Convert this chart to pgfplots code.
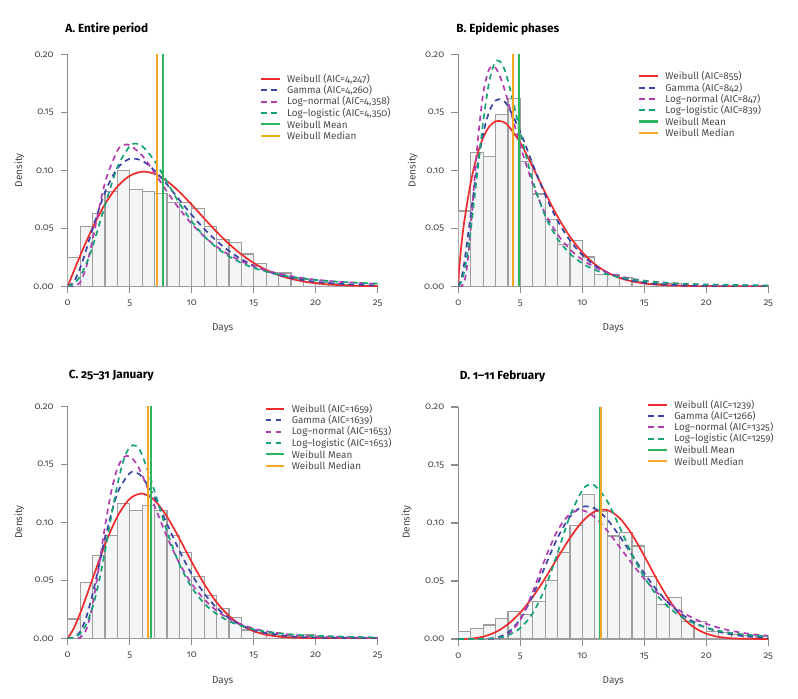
\documentclass[border=0pt]{standalone}
\usepackage{fontspec}
\setmainfont{Fira Sans}[Numbers=OldStyle]
\usepackage{pgfplots}
\pgfplotsset{compat=1.18}

\definecolor{wbred}{HTML}{EE2C2C}
\definecolor{gmblue}{HTML}{3C44A8}
\definecolor{lnpurple}{HTML}{B23DB0}
\definecolor{llgreen}{HTML}{16A276}
\definecolor{mngreen}{HTML}{2CB45E}
\definecolor{mdorange}{HTML}{F7A823}
\definecolor{barfill}{HTML}{F3F5F7}
\definecolor{baredge}{HTML}{9E9E9E}
\definecolor{axgray}{HTML}{8C8C8C}
\definecolor{labgray}{HTML}{4A4A4A}

\newcommand\tickfont{\fontsize{4.9pt}{6pt}\selectfont}
\newcommand\legfont{\fontsize{4.95pt}{6pt}\selectfont}
\newcommand\labfont{\fontsize{5pt}{6pt}\selectfont}
\newcommand\titlefont{\fontsize{5.9pt}{7pt}\selectfont\bfseries}

\pgfplotsset{
  panel/.style={
    width=155pt, height=116pt, scale only axis,
    anchor=south west,
    xmin=0, xmax=25, ymin=0, ymax=0.2,
    axis lines=left,
    axis line style={-, draw=axgray, line width=0.6pt},
    tick align=outside, major tick length=3.5pt,
    tick style={draw=axgray, line width=0.6pt},
    xtick={0,5,10,15,20,25},
    ytick={0,0.05,0.1,0.15,0.2},
    scaled y ticks=false,
    ticklabel style={font=\tickfont, text=labgray},
    yticklabel style={/pgf/number format/.cd, fixed, fixed zerofill, precision=2},
    /pgf/number format/assume math mode=true,
    clip mode=individual,
  },
  hist/.style={ybar interval, fill=barfill, draw=baredge, line width=0.6pt},
  wb/.style={wbred, line width=0.85pt, smooth},
  gm/.style={gmblue, line width=0.85pt, smooth, dash pattern=on 2.8pt off 2.2pt},
  ln/.style={lnpurple, line width=0.85pt, smooth, dash pattern=on 2.8pt off 2.2pt},
  ll/.style={llgreen, line width=0.85pt, smooth, dash pattern=on 2.8pt off 2.2pt},
  mn/.style={mngreen, line width=1pt},
  md/.style={mdorange, line width=1pt},
}

% legend rows: #1,#2 = start of first row (pt, from axis origin), #3 = row
\newcommand{\legrow}[5]{%
  \draw[#4] ({#1pt},{#2pt-#3*5.66pt}) -- ({#1pt+9.25pt},{#2pt-#3*5.66pt});
  \node[anchor=west, inner sep=0pt, font=\legfont, text=labgray] at ({#1pt+12.85pt},{#2pt-#3*5.66pt}) {#5};}
\newcommand{\fitlegend}[6]{%
  \legrow{#1}{#2}{0}{wbred, line width=0.9pt}{Weibull (AIC=#3)}
  \legrow{#1}{#2}{1}{gmblue, line width=0.9pt, dash pattern=on 2.8pt off 2.2pt}{Gamma (AIC=#4)}
  \legrow{#1}{#2}{2}{lnpurple, line width=0.9pt, dash pattern=on 2.8pt off 2.2pt}{Log--normal (AIC=#5)}
  \legrow{#1}{#2}{3}{llgreen, line width=0.9pt, dash pattern=on 2.8pt off 2.2pt}{Log--logistic (AIC=#6)}
  \legrow{#1}{#2}{4}{mngreen, line width=1.1pt}{Weibull Mean}
  \legrow{#1}{#2}{5}{mdorange, line width=1.1pt}{Weibull Median}}

\begin{document}
\begin{tikzpicture}
\path[use as bounding box] (0,0) rectangle (399pt,349pt);

% ---------------- A. Entire period ----------------
\begin{axis}[panel, at={(33.85pt,205.85pt)}]
\addplot[hist] coordinates {(0,0.0247) (1,0.0514) (2,0.0626) (3,0.0816) (4,0.0997) (5,0.0833) (6,0.0819) (7,0.0802) (8,0.0724) (9,0.0721) (10,0.0670) (11,0.0514) (12,0.0405) (13,0.0376) (14,0.0279) (15,0.0195) (16,0.0120) (17,0.0115) (18,0.0072) (19,0.0060) (20,0.0034) (21,0.0026) (22,0.0017) (23,0.0010) (24,0.0006) (25,0)};
\addplot[wb] coordinates {(0,0) (1,0.0262) (2,0.0503) (3,0.0707) (4,0.0859) (5,0.0952) (6,0.0988) (7,0.0970) (8,0.0908) (9,0.0815) (10,0.0704) (11,0.0586) (12,0.0471) (13,0.0366) (14,0.0276) (15,0.0201) (16,0.0142) (17,0.0097) (18,0.0065) (19,0.0042) (20,0.0026) (21,0.0016) (22,0.0010) (23,0.0005) (24,0.0003) (25,0.0002)};
\addplot[gm] coordinates {(0,0) (0.5,0.0039) (1,0.0155) (1.5,0.0316) (2,0.0493) (3,0.0810) (4,0.1016) (5,0.1099) (6,0.1082) (7,0.0999) (8,0.0879) (9,0.0746) (10,0.0616) (11,0.0496) (12,0.0392) (13,0.0305) (14,0.0234) (15,0.0178) (16,0.0134) (17,0.0099) (18,0.0073) (19,0.0054) (20,0.0039) (22,0.0021) (25,0.0007)};
\addplot[ln] coordinates {(0,0) (0.5,0.0001) (1,0.0033) (1.5,0.0168) (2,0.0400) (3,0.0890) (4,0.1168) (4.5,0.1216) (5,0.1217) (6,0.1128) (7,0.0979) (8,0.0818) (9,0.0668) (10,0.0538) (11,0.0430) (12,0.0343) (13,0.0272) (14,0.0217) (15,0.0172) (16,0.0137) (17,0.0110) (18,0.0088) (19,0.0071) (20,0.0057) (22,0.0038) (25,0.0021)};
\addplot[ll] coordinates {(0,0) (0.5,0.0021) (1,0.0086) (1.5,0.0194) (2,0.0339) (3,0.0695) (4,0.1025) (5,0.1208) (5.5,0.1230) (6,0.1210) (7,0.1083) (8,0.0901) (9,0.0718) (10,0.0560) (11,0.0433) (12,0.0334) (13,0.0259) (14,0.0202) (15,0.0159) (16,0.0127) (17,0.0102) (18,0.0082) (20,0.0055) (22,0.0038) (25,0.0023)};
\addplot[mn] coordinates {(7.69,0) (7.69,0.2)};
\addplot[md] coordinates {(7.18,0) (7.18,0.2)};
\end{axis}
\begin{scope}[shift={(33.85pt,205.85pt)}]
\fitlegend{96.65}{103.65}{4,247}{4,260}{4,358}{4,350}
\end{scope}

% ---------------- B. Epidemic phases ----------------
\begin{axis}[panel, at={(229.15pt,205.85pt)}]
\addplot[hist] coordinates {(0,0.0649) (1,0.1152) (2,0.1118) (3,0.1480) (4,0.1620) (5,0.1078) (6,0.0796) (7,0.0575) (8,0.0359) (9,0.0397) (10,0.0253) (11,0.0103) (12,0.0103) (13,0.0075) (14,0.0040) (15,0.0020) (16,0.0026) (17,0.0026) (18,0) (19,0) (20,0.0006) (21,0) (22,0) (23,0) (24,0) (25,0)};
\addplot[wb] coordinates {(0,0) (0.05,0.0116) (0.1,0.0188) (0.25,0.0356) (0.5,0.0572) (1,0.0893) (1.5,0.1123) (2,0.1281) (2.5,0.1378) (3,0.1422) (3.5,0.1422) (4,0.1387) (5,0.1237) (6,0.1029) (7,0.0808) (8,0.0602) (9,0.0429) (10,0.0293) (11,0.0191) (12,0.0121) (13,0.0073) (14,0.0043) (15,0.0025) (16,0.0014) (18,0.0004) (20,0.0001) (25,0)};
\addplot[gm] coordinates {(0,0) (0.25,0.0065) (0.5,0.0215) (1,0.0616) (1.5,0.1008) (2,0.1312) (2.5,0.1508) (3,0.1601) (3.5,0.1609) (4,0.1554) (5,0.1331) (6,0.1053) (7,0.0789) (8,0.0567) (9,0.0396) (10,0.0270) (11,0.0180) (12,0.0119) (13,0.0077) (14,0.0049) (15,0.0031) (16,0.0020) (18,0.0008) (20,0.0003) (25,0)};
\addplot[ln] coordinates {(0,0) (0.25,0.0001) (0.5,0.0044) (0.75,0.0212) (1,0.0501) (1.5,0.1172) (2,0.1658) (2.5,0.1874) (3,0.1884) (3.5,0.1771) (4,0.1597) (5,0.1214) (6,0.0882) (7,0.0630) (8,0.0448) (9,0.0319) (10,0.0229) (11,0.0165) (12,0.0120) (13,0.0088) (14,0.0065) (15,0.0049) (16,0.0037) (18,0.0021) (20,0.0013) (25,0.0004)};
\addplot[ll] coordinates {(0,0) (0.25,0.0039) (0.5,0.0138) (0.75,0.0288) (1,0.0481) (1.5,0.0946) (2,0.1413) (2.5,0.1767) (3,0.1936) (3.5,0.1921) (4,0.1775) (5,0.1326) (6,0.0909) (7,0.0609) (8,0.0410) (9,0.0282) (10,0.0198) (11,0.0142) (12,0.0104) (13,0.0078) (14,0.0060) (15,0.0046) (16,0.0036) (18,0.0023) (20,0.0016) (25,0.0007)};
\addplot[mn] coordinates {(4.89,0) (4.89,0.2)};
\addplot[md] coordinates {(4.41,0) (4.41,0.2)};
\end{axis}
\begin{scope}[shift={(229.15pt,205.85pt)}]
\fitlegend{90.5}{105}{855}{842}{847}{839}
\end{scope}

% ---------------- C. 25-31 January ----------------
\begin{axis}[panel, at={(33.85pt,29.85pt)}]
\addplot[hist] coordinates {(0,0.0166) (1,0.0479) (2,0.0716) (3,0.0883) (4,0.1160) (5,0.1103) (6,0.1143) (7,0.1103) (8,0.0883) (9,0.0739) (10,0.0533) (11,0.0367) (12,0.0258) (13,0.0180) (14,0.0072) (15,0.0049) (16,0.0037) (17,0.0020) (18,0.0014) (19,0.0032) (20,0.0009) (21,0.0005) (22,0.0005) (23,0.0003) (24,0.0003) (25,0)};
\addplot[wb] coordinates {(0,0) (0.5,0.0088) (1,0.0215) (1.5,0.0360) (2,0.0511) (3,0.0806) (4,0.1049) (5,0.1202) (6,0.1248) (7,0.1190) (8,0.1050) (9,0.0862) (10,0.0658) (11,0.0470) (12,0.0312) (13,0.0194) (14,0.0113) (15,0.0061) (16,0.0031) (17,0.0015) (18,0.0006) (20,0.0001) (25,0)};
\addplot[gm] coordinates {(0,0) (0.5,0.0006) (1,0.0056) (1.5,0.0182) (2,0.0378) (2.5,0.0615) (3,0.0859) (4,0.1249) (5,0.1423) (5.5,0.1428) (6,0.1390) (7,0.1219) (8,0.0989) (9,0.0757) (10,0.0552) (11,0.0388) (12,0.0264) (13,0.0175) (14,0.0113) (15,0.0072) (16,0.0045) (18,0.0017) (20,0.0006) (25,0)};
\addplot[ln] coordinates {(0,0) (0.5,0) (1,0.0006) (1.5,0.0076) (2,0.0282) (2.5,0.0606) (3,0.0959) (3.5,0.1259) (4,0.1462) (4.5,0.1561) (5,0.1569) (5.5,0.1511) (6,0.1409) (7,0.1144) (8,0.0877) (9,0.0649) (10,0.0470) (11,0.0337) (12,0.0239) (13,0.0170) (14,0.0120) (15,0.0085) (16,0.0061) (18,0.0031) (20,0.0016) (25,0.0004)};
\addplot[ll] coordinates {(0,0) (0.5,0.0006) (1,0.0039) (1.5,0.0121) (2,0.0265) (2.5,0.0478) (3,0.0746) (3.5,0.1043) (4,0.1320) (4.5,0.1534) (5,0.1649) (5.5,0.1660) (6,0.1581) (7,0.1270) (8,0.0924) (9,0.0641) (10,0.0439) (11,0.0302) (12,0.0210) (13,0.0148) (14,0.0107) (15,0.0078) (16,0.0058) (18,0.0034) (20,0.0021) (25,0.0007)};
\addplot[mn] coordinates {(6.72,0) (6.72,0.2)};
\addplot[md] coordinates {(6.51,0) (6.51,0.2)};
\end{axis}
\begin{scope}[shift={(33.85pt,29.85pt)}]
\fitlegend{99}{114.65}{1659}{1639}{1653}{1653}
\end{scope}

% ---------------- D. 1-11 February ----------------
\begin{axis}[panel, at={(229.15pt,29.5pt)}]
\addplot[hist] coordinates {(0,0.0066) (1,0.0092) (2,0.0120) (3,0.0178) (4,0.0238) (5,0.0209) (6,0.0324) (7,0.0507) (8,0.0745) (9,0.0977) (10,0.1244) (11,0.1100) (12,0.0888) (13,0.0917) (14,0.0802) (15,0.0536) (16,0.0295) (17,0.0358) (18,0.0152) (19,0.0149) (20,0.0063) (21,0.0054) (22,0.0040) (23,0.0032) (24,0.0023) (25,0)};
\addplot[wb] coordinates {(0,0) (1,0.0003) (2,0.0020) (3,0.0059) (4,0.0127) (5,0.0228) (6,0.0362) (7,0.0523) (8,0.0699) (9,0.0870) (10,0.1012) (11,0.1099) (12,0.1112) (13,0.1043) (14,0.0903) (15,0.0716) (16,0.0517) (17,0.0337) (18,0.0196) (19,0.0101) (20,0.0046) (21,0.0018) (22,0.0006) (23,0.0002) (25,0)};
\addplot[gm] coordinates {(0,0) (1,0) (2,0.0001) (3,0.0010) (4,0.0055) (5,0.0173) (6,0.0373) (7,0.0626) (8,0.0871) (9,0.1054) (10,0.1140) (11,0.1126) (12,0.1032) (13,0.0888) (14,0.0726) (15,0.0566) (16,0.0424) (17,0.0306) (18,0.0215) (19,0.0146) (20,0.0097) (21,0.0063) (22,0.0040) (23,0.0025) (24,0.0016) (25,0.0009)};
\addplot[ln] coordinates {(0,0) (2,0) (3,0.0003) (4,0.0038) (5,0.0166) (6,0.0404) (7,0.0691) (8,0.0935) (9,0.1078) (10,0.1110) (11,0.1051) (12,0.0936) (13,0.0795) (14,0.0651) (15,0.0519) (16,0.0405) (17,0.0311) (18,0.0235) (19,0.0176) (20,0.0131) (21,0.0097) (22,0.0071) (23,0.0052) (24,0.0038) (25,0.0028)};
\addplot[ll] coordinates {(0,0) (2,0.0001) (3,0.0008) (4,0.0032) (5,0.0094) (6,0.0222) (7,0.0439) (8,0.0741) (9,0.1060) (10,0.1283) (10.5,0.1328) (11,0.1323) (12,0.1191) (13,0.0967) (14,0.0732) (15,0.0533) (16,0.0380) (17,0.0269) (18,0.0191) (19,0.0136) (20,0.0098) (21,0.0071) (22,0.0053) (23,0.0039) (25,0.0022)};
\addplot[mn] coordinates {(11.42,0) (11.42,0.2)};
\addplot[md] coordinates {(11.49,0) (11.49,0.2)};
\end{axis}
\begin{scope}[shift={(229.15pt,29.5pt)}]
\fitlegend{95}{117.15}{1239}{1266}{1325}{1259}
\end{scope}

% ---------------- titles and axis labels ----------------
\node[anchor=west, inner sep=0pt, font=\titlefont] at (32.5pt,334.35pt) {A. Entire period};
\node[anchor=west, inner sep=0pt, font=\titlefont] at (228pt,334.35pt) {B. Epidemic phases};
\node[anchor=west, inner sep=0pt, font=\titlefont] at (34.2pt,161pt) {C. 25--31 January};
\node[anchor=west, inner sep=0pt, font=\titlefont] at (229.7pt,161pt) {D. 1--11 February};

\node[font=\labfont, text=labgray] at (111.35pt,184.85pt) {Days};
\node[font=\labfont, text=labgray] at (306.65pt,184.85pt) {Days};
\node[font=\labfont, text=labgray] at (111.35pt,8.65pt) {Days};
\node[font=\labfont, text=labgray] at (306.65pt,8.5pt) {Days};

\node[font=\labfont, text=labgray, rotate=90] at (9.65pt,263.85pt) {Density};
\node[font=\labfont, text=labgray, rotate=90] at (206.35pt,263.85pt) {Density};
\node[font=\labfont, text=labgray, rotate=90] at (9.65pt,88pt) {Density};
\node[font=\labfont, text=labgray, rotate=90] at (203.35pt,88pt) {Density};
\end{tikzpicture}
\end{document}
